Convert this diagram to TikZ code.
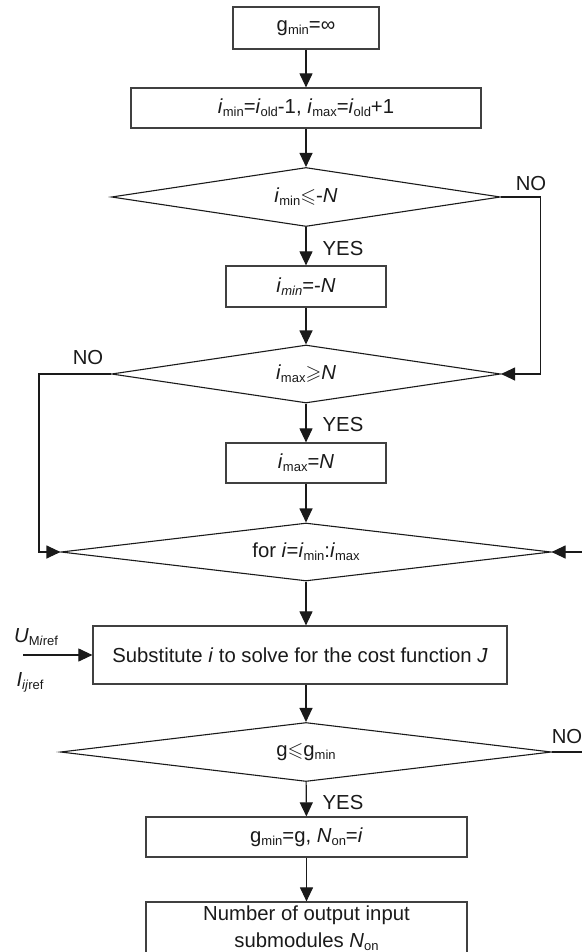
\documentclass[tikz,border=0pt]{standalone}
\usepackage{amssymb}
\usepackage{fontspec}
\setmainfont{Liberation Sans}
\usetikzlibrary{shapes.geometric,arrows.meta}
\definecolor{txt}{HTML}{1A1A1A}
\definecolor{boxc}{HTML}{404040}
\definecolor{linec}{HTML}{1A1A1A}
\newcommand{\lo}[1]{\raisebox{-0.3ex}{\fontsize{13}{13}\selectfont #1}}
\begin{document}
\begin{tikzpicture}[x=1pt,y=-1pt, font=\fontsize{20.3}{26.5}\selectfont,
  box/.style={draw=boxc, line width=1.2pt, inner sep=0pt, text=txt, align=center, fill=white},
  dia/.style={draw=linec, line width=1.1pt, diamond, inner sep=0pt, text=txt},
  arr/.style={draw=linec, line width=1.1pt, -{Triangle[length=14pt,width=13pt]}},
  lin/.style={draw=linec, line width=1.1pt},
  lab/.style={text=txt, inner sep=0pt}]
\useasboundingbox (0,0) rectangle (581,952);
\node[box, minimum width=146pt, minimum height=42pt] (b1) at (306,28) {g\lo{min}=∞};
\node[box, minimum width=350pt, minimum height=40pt] (b2) at (306,108) {\textit{i}\lo{min}=\textit{i}\lo{old}-1, \textit{i}\lo{max}=\textit{i}\lo{old}+1};
\node[dia, aspect=6.6, minimum width=389pt, minimum height=59pt] (d1) at (306,197) {\textit{i}\lo{min}$\leqslant$-\textit{N}};
\node[box, minimum width=160pt, minimum height=41pt] (b3) at (306,286.5) {\textit{i}\lo{\textit{min}}=-\textit{N}};
\node[dia, aspect=6.7, minimum width=389pt, minimum height=58pt] (d2) at (306,374) {\textit{i}\lo{max}$\geqslant$\textit{N}};
\node[box, minimum width=160pt, minimum height=40pt] (b4) at (306,463) {\textit{i}\lo{max}=\textit{N}};
\node[dia, aspect=8.45, minimum width=490pt, minimum height=58pt] (d3) at (306,552) {for \textit{i}=\textit{i}\lo{min}:\textit{i}\lo{max}};
\node[box, minimum width=414pt, minimum height=58pt] (b5) at (300,655) {Substitute \textit{i} to solve for the cost function \textit{J}};
\node[dia, aspect=8.3, minimum width=491pt, minimum height=59pt] (d4) at (306,752) {g$\leqslant$g\lo{min}};
\node[box, minimum width=321pt, minimum height=40pt] (b6) at (306.5,837) {g\lo{min}=g, \textit{N}\lo{on}=\textit{i}};
\node[box, minimum width=321pt, minimum height=53pt] (b7) at (306.5,928.5) {Number of output input\\submodules \textit{N}\lo{on}};

\coordinate (in5) at (23,655);
\coordinate (r3) at (582,552);
\coordinate (r4) at (582,752);

\draw[arr] (b1) -- (b2);
\draw[arr] (b2) -- (d1);
\draw[arr] (d1) -- (b3);
\draw[arr] (b3) -- (d2);
\draw[arr] (d2) -- (b4);
\draw[arr] (b4) -- (d3);
\draw[arr] (d3.south) -- (d3.south |- b5.north);
\draw[arr] (b5.south -| d4.north) -- (d4.north);
\draw[arr] (d4) -- (b6);
\draw[arr] (b6) -- (b7);
\draw[arr] (d1.east) -- ++(39,0) |- (d2.east);
\draw[arr] (d2.west) -- (39,374) |- (d3.west);
\draw[arr] (r3) -- (d3.east);
\draw[lin] (d4.east) -- (r4);
\draw[arr] (in5) -- (b5.west);

\node[lab] (no1) at (531,184) {NO};
\node[lab] (no2) at (88,358) {NO};
\node[lab] (no4) at (567,737) {NO};
\node[lab] (y1) at (343,249) {YES};
\node[lab] (y2) at (343,425) {YES};
\node[lab] (y4) at (343,803) {YES};
\node[lab] (um) at (36,637) {\textit{U}\lo{M\textit{i}ref}};
\node[lab] (ij) at (30,682) {\textit{I}\lo{\textit{ij}ref}};
\end{tikzpicture}
\end{document}
